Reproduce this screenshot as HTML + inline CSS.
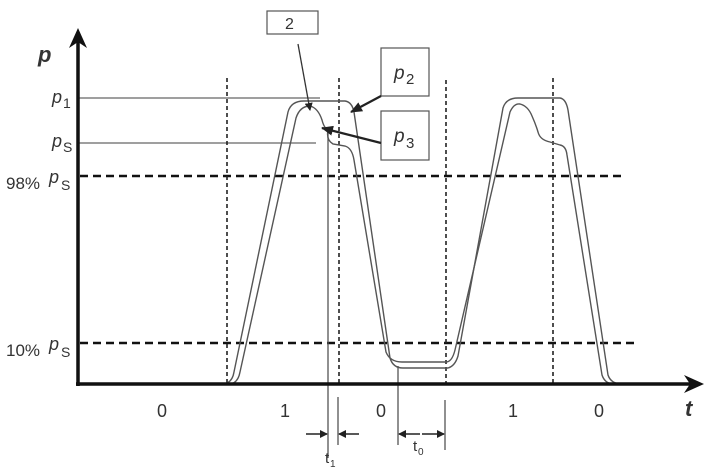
<!DOCTYPE html>
<html><head><meta charset="utf-8"><style>
body{margin:0;background:#fff}
svg{display:block}
text{font-family:"Liberation Sans",sans-serif;fill:#333}
</style></head><body>
<svg width="711" height="475" viewBox="0 0 711 475">
<defs>
<marker id="ah" markerWidth="8" markerHeight="8" refX="7" refY="4" orient="auto" markerUnits="userSpaceOnUse"><path d="M0,0 L8,4 L0,8 Z" fill="#222"/></marker>
<marker id="ah2" markerWidth="12" markerHeight="10" refX="11" refY="5" orient="auto" markerUnits="userSpaceOnUse"><path d="M0,0 L12,5 L0,10 Z" fill="#222"/></marker>
</defs>
<line x1="78" y1="98" x2="320" y2="98" stroke="#666" stroke-width="1.2"/>
<line x1="78" y1="143" x2="316" y2="143" stroke="#666" stroke-width="1.2"/>
<g stroke="#111" stroke-width="2.6" stroke-dasharray="8,5">
<line x1="80" y1="176" x2="622" y2="176"/>
<line x1="80" y1="343" x2="635" y2="343"/>
</g>
<g stroke="#222" stroke-width="1.6" stroke-dasharray="4,3">
<line x1="227" y1="78" x2="227" y2="384"/>
<line x1="339" y1="78" x2="339" y2="384"/>
<line x1="446" y1="80" x2="446" y2="384"/>
<line x1="553" y1="78" x2="553" y2="384"/>
</g>
<g fill="none" stroke="#555" stroke-width="1.4">
<path d="M222,384 Q232,384 234,372 L288,112 Q291,101 304,101 L345,101 Q352,102 354,112 L390,358 Q393,368 403,368 L448,368 Q455,366 458,356 L503,108 Q506,98 518,98 L560,98 Q566,99 568,110 L608,375 Q611,384 622,384"/>
<path d="M230,384 Q238,383 240,372 L296,118 Q300,106 310,106 Q318,108 322,120 Q324,128 328,130 Q326,140 333,144 L345,146 Q352,148 354,160 L386,352 Q390,362 402,362 L446,362 Q452,362 455,350 L510,112 Q514,103 520,104 Q528,106 532,116 Q536,125 538,132 Q540,140 550,142 L560,145 Q566,146 567,155 L602,375 Q605,384 614,384"/>
</g>
<g stroke="#555" stroke-width="1.3">
<line x1="328" y1="130" x2="328" y2="458"/>
<line x1="338" y1="397" x2="338" y2="445"/>
<line x1="398" y1="366" x2="398" y2="445"/>
<line x1="445" y1="400" x2="445" y2="450"/>
</g>
<g stroke="#222" stroke-width="1.5">
<line x1="306" y1="434" x2="327" y2="434" marker-end="url(#ah)"/>
<line x1="359" y1="434" x2="339" y2="434" marker-end="url(#ah)"/>
<line x1="420" y1="434" x2="399" y2="434" marker-end="url(#ah)"/>
<line x1="422" y1="434" x2="444" y2="434" marker-end="url(#ah)"/>
</g>
<line x1="78" y1="386" x2="78" y2="40" stroke="#111" stroke-width="3.5"/>
<path d="M78,28 L69,48 L78,42 L87,48 Z" fill="#111"/>
<line x1="76" y1="384" x2="690" y2="384" stroke="#111" stroke-width="3.5"/>
<path d="M704,384 L684,375 L690,384 L684,393 Z" fill="#111"/>
<rect x="267" y="11" width="51" height="23" fill="#fff" stroke="#555" stroke-width="1.2"/>
<text x="285" y="29" font-size="16">2</text>
<rect x="381" y="48" width="48" height="48" fill="#fff" stroke="#555" stroke-width="1.2"/>
<text x="394" y="79" font-size="19" font-style="italic">p</text><text x="406" y="84" font-size="15">2</text>
<rect x="381" y="111" width="48" height="49" fill="#fff" stroke="#555" stroke-width="1.2"/>
<text x="394" y="142" font-size="19" font-style="italic">p</text><text x="406" y="148" font-size="15">3</text>
<line x1="298" y1="44" x2="310" y2="110" stroke="#333" stroke-width="1.3" marker-end="url(#ah)"/>
<line x1="381" y1="96" x2="351" y2="112" stroke="#222" stroke-width="2.2" marker-end="url(#ah2)"/>
<line x1="381" y1="143" x2="322" y2="128" stroke="#222" stroke-width="2.2" marker-end="url(#ah2)"/>
<text x="38" y="62" font-size="22" font-weight="bold" font-style="italic" fill="#111">p</text>
<text x="685" y="416" font-size="22" font-weight="bold" font-style="italic" fill="#111">t</text>
<text x="52" y="103" font-size="18" font-style="italic">p</text><text x="63" y="108" font-size="14">1</text>
<text x="52" y="147" font-size="18" font-style="italic">p</text><text x="63" y="152" font-size="14">S</text>
<text x="6" y="189" font-size="17">98%</text><text x="49" y="183" font-size="18" font-style="italic">p</text><text x="61" y="190" font-size="14">S</text>
<text x="6" y="356" font-size="17">10%</text><text x="49" y="350" font-size="18" font-style="italic">p</text><text x="61" y="357" font-size="14">S</text>
<g font-size="18">
<text x="157" y="417">0</text>
<text x="280" y="417">1</text>
<text x="376" y="417">0</text>
<text x="508" y="417">1</text>
<text x="594" y="417">0</text>
</g>
<text x="325" y="463" font-size="15">t</text><text x="330" y="467" font-size="10">1</text>
<text x="413" y="451" font-size="15">t</text><text x="418" y="455" font-size="10">0</text>
</svg>
</body></html>
